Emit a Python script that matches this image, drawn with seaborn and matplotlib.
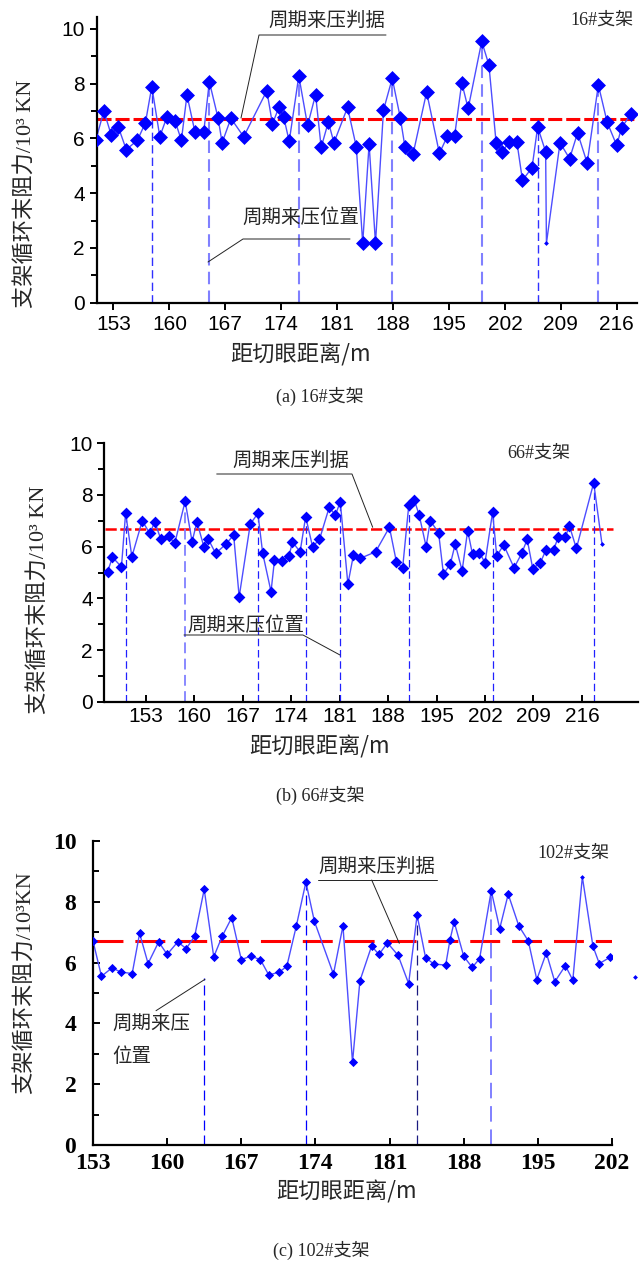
import seaborn as sns
import matplotlib.pyplot as plt
from matplotlib.lines import Line2D
import pandas as pd

# ---- values ----
criterion = 6.7   # 周期来压判据 (10^3 kN)

# (a) 16# support
a_dist = [150.8, 151.8, 152.7, 153.6, 154.6, 156.0, 157.0, 157.8, 158.8, 159.7,
          160.7, 161.5, 162.2, 163.2, 164.3, 165.0, 166.1, 166.6, 167.7, 169.3,
          172.2, 172.9, 173.7, 174.3, 175.0, 176.2, 177.3, 178.3, 179.0, 179.9,
          180.6, 182.3, 183.4, 184.2, 185.0, 185.8, 186.8, 187.9, 188.9, 189.5,
          190.5, 192.2, 193.8, 194.8, 195.7, 196.6, 197.4, 199.1, 200.0, 200.9,
          201.7, 202.5, 203.5, 204.2, 205.4, 206.1, 207.1, 207.2, 208.9, 210.1,
          211.1, 212.3, 213.7, 214.8, 216.0, 216.6, 217.8]
a_force = [5.95, 7.0, 6.14, 6.42, 5.59, 5.93, 6.57, 7.89, 6.06, 6.79,
           6.64, 5.93, 7.58, 6.23, 6.23, 8.07, 6.73, 5.84, 6.73, 6.06,
           7.74, 6.52, 7.13, 6.79, 5.89, 8.28, 6.47, 7.6, 5.67, 6.6,
           5.84, 7.13, 5.69, 2.17, 5.79, 2.17, 7.03, 8.19, 6.76, 5.67,
           5.42, 7.69, 5.45, 6.08, 6.08, 8.03, 7.09, 9.54, 8.68, 5.84,
           5.51, 5.87, 5.87, 4.47, 4.93, 6.42, 5.51, 2.17, 5.84, 5.26,
           6.2, 5.1, 7.95, 6.59, 5.74, 6.39, 6.89]
a_plain = [57]
a_peak_dist = [157.8, 165.0, 176.2, 187.9, 199.1, 206.1, 213.7]
a_peak_force = [7.89, 8.07, 8.28, 8.19, 9.54, 6.42, 7.95]

# (b) 66# support
b_dist = [147.5, 148.2, 149.5, 150.1, 151.0, 152.5, 153.6, 154.3, 155.2, 156.3,
          157.2, 158.7, 159.7, 160.4, 161.4, 162.0, 163.1, 164.6, 165.7, 166.5,
          168.1, 169.2, 169.9, 171.1, 171.6, 172.7, 173.7, 174.2, 175.3, 176.1,
          177.1, 178.1, 179.5, 180.4, 181.1, 182.2, 183.0, 184.0, 186.2, 188.2,
          189.2, 190.1, 191.0, 191.8, 192.5, 193.5, 194.1, 195.3, 196.0, 197.0,
          197.7, 198.7, 199.5, 200.2, 201.2, 202.0, 203.1, 203.7, 204.7, 206.2,
          207.3, 208.1, 208.9, 210.0, 210.8, 211.9, 212.6, 213.6, 214.2, 215.2,
          217.7, 218.9]
b_force = [5.03, 5.59, 5.22, 7.31, 5.61, 7.0, 6.51, 6.96, 6.28, 6.41,
           6.13, 7.76, 6.19, 6.96, 6.0, 6.31, 5.74, 6.1, 6.45, 4.06,
           6.87, 7.29, 5.74, 4.26, 5.48, 5.45, 5.64, 6.18, 5.8, 7.16,
           6.0, 6.28, 7.52, 7.22, 7.74, 4.55, 5.67, 5.55, 5.8, 6.75,
           5.42, 5.16, 7.61, 7.8, 7.22, 6.0, 7.0, 6.54, 4.94, 5.33,
           6.1, 5.07, 6.62, 5.7, 5.77, 5.38, 7.33, 5.64, 6.07, 5.18,
           5.74, 6.28, 5.15, 5.38, 5.87, 5.87, 6.38, 6.38, 6.8, 5.93,
           8.47, 6.1]
b_plain = [71]
b_peak_dist = [150.1, 158.7, 169.2, 176.1, 181.1, 191.0, 203.1, 217.7]
b_peak_force = [7.31, 7.76, 7.29, 7.16, 7.74, 7.61, 7.33, 8.47]

# (c) 102# support
c_dist = [153.0, 153.8, 154.8, 155.6, 156.7, 157.4, 158.2, 159.2, 160.0, 161.0,
          161.8, 162.6, 163.5, 164.4, 165.2, 166.1, 167.0, 167.9, 168.8, 169.6,
          170.6, 171.3, 172.2, 173.1, 173.9, 175.7, 176.6, 177.5, 178.2, 179.3,
          180.0, 180.8, 181.8, 182.8, 183.6, 184.4, 185.2, 186.3, 186.7, 187.1,
          188.0, 188.8, 189.5, 190.6, 191.4, 192.2, 193.2, 194.1, 194.9, 195.8,
          196.6, 197.6, 198.3, 199.2, 200.2, 200.8, 201.8]
c_force = [6.71, 5.55, 5.83, 5.69, 5.64, 6.96, 5.97, 6.68, 6.27, 6.68,
           6.46, 6.87, 8.41, 6.19, 6.87, 7.48, 6.1, 6.21, 6.1, 5.59,
           5.69, 5.88, 7.21, 8.65, 7.36, 5.62, 7.21, 2.72, 5.4, 6.54,
           6.27, 6.65, 6.24, 5.31, 7.56, 6.16, 5.95, 5.92, 6.74, 7.34,
           6.21, 5.84, 6.13, 8.36, 7.12, 8.25, 7.21, 6.71, 5.44, 6.32,
           5.37, 5.9, 5.42, 8.82, 6.54, 5.97, 6.17]
c_plain = [53]
c_stray_dist = [204.2]
c_stray_force = [5.53]
c_peak_dist = [163.5, 173.1, 183.6, 190.6]
c_peak_force = [5.5, 8.65, 7.56, 8.36]

xticks_main = list(range(153, 217, 7))
xticks_c = list(range(153, 203, 7))

sns.set_style('ticks')
plt.rcParams['font.family'] = ['Liberation Serif', 'Noto Sans CJK SC']
plt.rcParams['axes.unicode_minus'] = False

W, H = 641, 1269
fig = plt.figure(figsize=(W / 100, H / 100), dpi=100)

CJK = ['Noto Sans CJK SC']
SERIF = ['Liberation Serif', 'Noto Sans CJK SC']


def box(l, t, r, b):
    return [l / W, 1 - b / H, (r - l) / W, (b - t) / H]


def ftext(x, y, s, size, family=CJK, **kw):
    fig.text(x / W, 1 - y / H, s, fontsize=size, family=family, va='center', **kw)


def fline(pts, lw=0.7, color='#222222'):
    xs = [p[0] / W for p in pts]
    ys = [1 - p[1] / H for p in pts]
    fig.add_artist(Line2D(xs, ys, transform=fig.transFigure, color=color, lw=lw))


def draw_series(ax, dist, force, plain, size):
    df = pd.DataFrame({'dist': dist, 'force': force})
    df['shown'] = ~df.index.isin(plain)
    sns.lineplot(data=df, x='dist', y='force', sort=False, estimator=None,
                 color='#4d4dff', lw=1.0, ax=ax, zorder=2)
    sns.scatterplot(data=df[df.shown], x='dist', y='force', marker='D', s=size,
                    color='#0000ff', edgecolor='#0000ff', linewidth=0, ax=ax, zorder=3)
    sns.scatterplot(data=df[~df.shown], x='dist', y='force', marker='D', s=6,
                    color='#0000ff', edgecolor='#0000ff', linewidth=0, ax=ax, zorder=3)
    ax.set_xlabel('')
    ax.set_ylabel('')


def style_axes(ax, xdir, ydir, tickfont, tsize, weight='normal'):
    sns.despine(ax=ax)
    for s in ('left', 'bottom'):
        ax.spines[s].set_linewidth(1.6)
        ax.spines[s].set_color('black')
    ax.set_yticks(range(0, 11, 2))
    ax.set_yticks(range(0, 11), minor=True)
    ax.tick_params(axis='x', direction=xdir, length=5, width=1.4, colors='black')
    ax.tick_params(axis='y', which='both', direction=ydir, length=5, width=1.4, colors='black')
    ax.tick_params(axis='y', which='minor', length=4)
    for lab in ax.get_xticklabels() + ax.get_yticklabels():
        lab.set_family(tickfont)
        lab.set_fontsize(tsize)
        lab.set_fontweight(weight)


# ---------------- (a) ----------------
ax_a = fig.add_axes(box(96.7, 17, 636.7, 302.7))
ax_a.axhline(criterion, color='#ff0000', lw=2.2, dashes=(4.6, 1.3), zorder=1)
for i, (d, f) in enumerate(zip(a_peak_dist, a_peak_force)):
    light = i not in (0, 5)
    ax_a.vlines(d, 0, f, colors='#8080ff' if light else '#3030ff',
                lw=1.5 if light else 1.0, linestyles=(0, (6, 3)), zorder=1)
draw_series(ax_a, a_dist, a_force, a_plain, 58)
ax_a.set_xlim(150.9, 218.5)
ax_a.set_ylim(0, 10.43)
ax_a.set_xticks(xticks_main)
style_axes(ax_a, 'out', 'out', ['Liberation Sans'], 15)

ftext(268, 20, '周期来压判据', 14)
fline([(386, 35), (259, 35), (241, 118)])
ftext(242, 217, '周期来压位置', 14)
fline([(350, 239), (243, 239), (208, 262)])
ftext(570, 20, '16#支架', 13, family=SERIF)
ftext(301, 355, '距切眼距离/m', 16, ha='center')
ftext(25, 194, '支架循环末阻力/10³ KN', 16, family=SERIF, rotation=90, ha='center')
ftext(320, 396, '(a) 16#支架', 13, family=SERIF, ha='center')

# ---------------- (b) ----------------
ax_b = fig.add_axes(box(104.5, 443.3, 638, 701.7))
ax_b.set_xlim(147.05, 224.1)
ax_b.hlines(criterion, 147.05, 220.5, color='#ff0000', lw=1.8, linestyles=(0, (4.5, 1.4)), zorder=1)
for i, (d, f) in enumerate(zip(b_peak_dist, b_peak_force)):
    light = i == 1
    ax_b.vlines(d, 0, f, colors='#8080ff' if light else '#2020ff',
                lw=1.3 if light else 0.9, linestyles=(0, (6, 3)), zorder=1)
draw_series(ax_b, b_dist, b_force, b_plain, 36)
ax_b.set_xlim(147.05, 224.1)
ax_b.set_ylim(0, 10)
ax_b.set_xticks(xticks_main)
style_axes(ax_b, 'in', 'out', ['Liberation Sans'], 15)

ftext(232, 460, '周期来压判据', 14)
fline([(216.7, 474), (352, 474), (372.7, 527.3)])
ftext(187, 625, '周期来压位置', 14)
fline([(184, 635), (303, 635), (340, 655)])
ftext(507, 453, '66#支架', 13, family=SERIF)
ftext(320, 747, '距切眼距离/m', 16, ha='center')
ftext(38, 600, '支架循环末阻力/10³ KN', 16, family=SERIF, rotation=90, ha='center')
ftext(320, 795, '(b) 66#支架', 13, family=SERIF, ha='center')

# ---------------- (c) ----------------
ax_c = fig.add_axes(box(93, 841, 612, 1145))
ax_c.axhline(criterion, color='#ff0000', lw=2.2, dashes=(9.8, 3.9), zorder=1)
c_colors = ['#0000ff', '#0000ff', '#1a1a80', '#8080ff']
for d, f, col in zip(c_peak_dist, c_peak_force, c_colors):
    ax_c.vlines(d, 0, f, colors=col, lw=1.4 if col == '#8080ff' else 0.9,
                linestyles=(0, (8, 4)), zorder=1)
draw_series(ax_c, c_dist, c_force, c_plain, 22)
sns.scatterplot(x=c_stray_dist, y=c_stray_force, marker='D', s=6, color='#0000ff',
                linewidth=0, clip_on=False, ax=ax_c)
ax_c.set_xlim(153, 202)
ax_c.set_ylim(0, 10)
ax_c.set_xticks(xticks_c)
style_axes(ax_c, 'in', 'in', ['Liberation Serif'], 17, weight='bold')
ax_c.tick_params(axis='x', pad=6)
ax_c.tick_params(axis='y', pad=12)

ftext(318, 866, '周期来压判据', 14)
fline([(318, 880), (437, 880)])
fline([(371.7, 880), (399.3, 943.3)])
ftext(112, 1024, '周期来压', 14)
ftext(112, 1057, '位置', 14)
fline([(156, 1010.7), (205, 979.3)])
ftext(537, 853, '102#支架', 13, family=SERIF)
ftext(347, 1192, '距切眼距离/m', 16, ha='center')
ftext(24, 983, '支架循环末阻力/10³KN', 16, family=SERIF, rotation=90, ha='center')
ftext(321, 1250, '(c) 102#支架', 13, family=SERIF, ha='center')

fig.savefig('out.png', dpi=100)
